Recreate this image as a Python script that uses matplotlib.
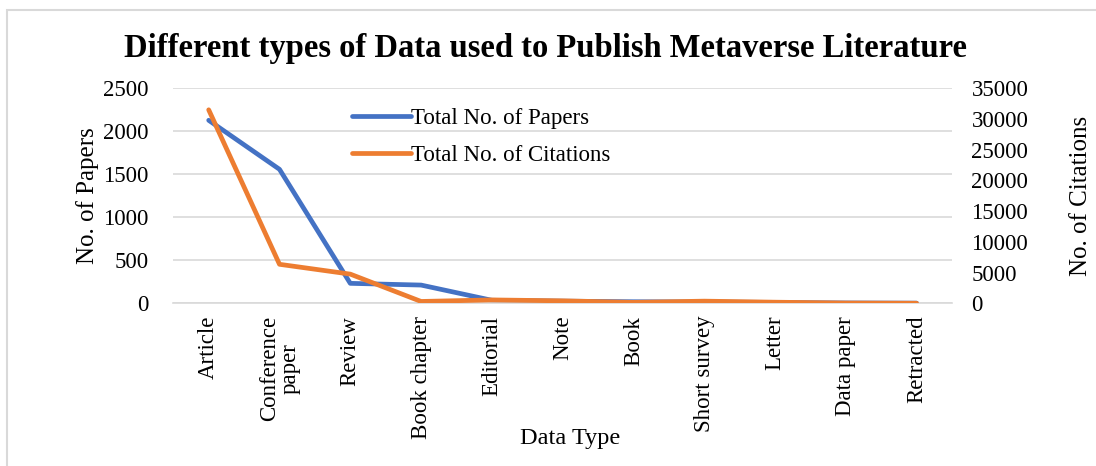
#!/usr/bin/env python3

import numpy as np
import matplotlib
matplotlib.use("Agg")
import matplotlib.pyplot as plt
from matplotlib.patches import Rectangle

# data
data_types = ["Article", "Conference\npaper", "Review", "Book chapter", "Editorial",
              "Note", "Book", "Short survey", "Letter", "Data paper", "Retracted"]
papers = [2128, 1558, 232, 212, 35, 25, 18, 15, 10, 4, 2]
citations = [31500, 6350, 4750, 300, 550, 400, 150, 350, 180, 40, 5]

blue = "#4472C4"
orange = "#ED7D31"
grid_col = "#d9d9d9"

plt.rcParams['font.family'] = ['Liberation Serif', 'DejaVu Serif']

fig = plt.figure(figsize=(10.96, 4.66), dpi=100)
ax = fig.add_axes([173.3/1096, 1-303.3/466, (952-173.3)/1096, 215/466])
ax2 = ax.twinx()

x = np.arange(len(data_types))

l1, = ax.plot(x, papers, color=blue, lw=3.4, solid_capstyle='round', solid_joinstyle='round',
              label="Total No. of Papers")
l2, = ax2.plot(x, citations, color=orange, lw=3.4, solid_capstyle='round', solid_joinstyle='round',
               label="Total No. of Citations")

ax.set_xlim(-0.5, len(data_types)-0.5)
ax.set_ylim(0, 2500)
ax.set_yticks(np.arange(0, 2501, 500))
ax2.set_ylim(0, 35000)
ax2.set_yticks(np.arange(0, 35001, 5000))

ax.set_zorder(ax2.get_zorder()-1)
ax.patch.set_visible(False)
ax.yaxis.grid(True, color=grid_col, lw=1.2)
ax.set_axisbelow(True)

for a in (ax, ax2):
    for s in a.spines.values():
        s.set_visible(False)
    a.tick_params(length=0, labelsize=16.5)

ax.spines['bottom'].set_visible(True)
ax.spines['bottom'].set_color(grid_col)
ax.spines['bottom'].set_linewidth(1.2)

ax.set_xticks(x)
ax.set_xticklabels(data_types, rotation=90, va='top', ha='center', linespacing=0.95)
ax.tick_params(axis='x', pad=9)
ax.tick_params(axis='y', pad=18)
ax2.tick_params(axis='y', pad=14)

ax.set_ylabel("No. of Papers", fontsize=18, labelpad=3)
ax2.set_ylabel("No. of Citations", fontsize=18, labelpad=30)
ax.set_xlabel("Data Type", fontsize=17.5)
ax.xaxis.set_label_coords((570-173.3)/(952-173.3), -0.58)

fig.suptitle("Different types of Data used to Publish Metaverse Literature",
             fontsize=23.5, fontweight='bold', x=545/1096, y=1-49/466, va='center')

ax.legend(handles=[l1, l2], loc='center left', frameon=False, fontsize=16.5,
          bbox_to_anchor=(343/1096, 1-137/466), bbox_transform=fig.transFigure,
          handlelength=2.55, handletextpad=0.0, labelspacing=0.72, borderaxespad=0)

# light chart border (left and top only visible)
fig.patches.append(Rectangle((7/1096, -0.5), 2, 1.5-10/466, transform=fig.transFigure,
                             fill=False, edgecolor=grid_col, lw=1.5))

fig.savefig("out.png", dpi=100)
